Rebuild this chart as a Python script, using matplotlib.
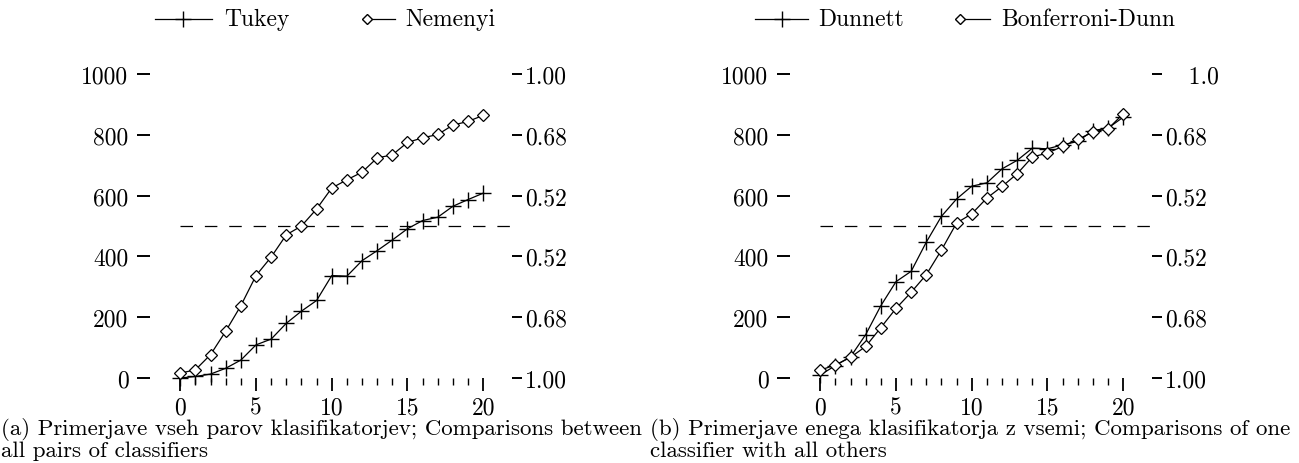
import matplotlib
matplotlib.use("Agg")
import matplotlib.pyplot as plt
from matplotlib.lines import Line2D

plt.rcParams['font.family'] = ['cmr10', 'DejaVu Serif']
plt.rcParams['axes.formatter.use_mathtext'] = True
plt.rcParams['axes.unicode_minus'] = False

# ---------------- data ----------------
x_vals = list(range(21))
tukey = [0, 5, 13, 32, 59, 109, 128, 180, 220, 255, 337, 335, 386, 419, 454,
         491, 518, 529, 565, 587, 608]
nemenyi = [16, 27, 77, 154, 238, 337, 398, 471, 500, 556, 625, 652, 677, 724,
           734, 775, 790, 801, 832, 844, 864]
dunnett = [10, 41, 70, 143, 238, 317, 351, 447, 532, 589, 631, 642, 688, 716,
           756, 754, 767, 778, 814, 822, 858]
bonferroni = [26, 43, 68, 104, 166, 229, 282, 340, 421, 510, 540, 592, 630,
              672, 727, 740, 762, 785, 809, 820, 869]
threshold = 500
y_ticks = [0, 200, 400, 600, 800, 1000]
y_ticklabels = ['0', '200', '400', '600', '800', '1000']
# right-hand labels, in the order of y_ticks (bottom to top)
right_labels_a = ['1.00', '0.68', '0.52', '0.52', '0.68', '1.00']
right_labels_b = ['1.00', '0.68', '0.52', '0.52', '0.68', '   1.0']
x_major = [0, 5, 10, 15, 20]
x_major_labels = ['0', '5', '10', '15', '20']
x_minor = list(range(21))
captions = ["(a) Primerjave vseh parov klasifikatorjev; Comparisons between\nall pairs of classifiers",
            "(b) Primerjave enega klasifikatorja z vsemi; Comparisons of one\nclassifier with all others"]
legend_a = ['Tukey', 'Nemenyi']
legend_b = ['Dunnett', 'Bonferroni-Dunn']

W, H = 1299, 464
fig = plt.figure(figsize=(W / 100, H / 100), dpi=100)

FS = 17
CAPFS = 16.5


def make_panel(left_px, s_plus, s_diam, rlabels):
    ax = fig.add_axes([left_px / W, (H - 379) / H, 362 / W, 304 / H])
    ax.set_xlim(-2.0, 21.9)
    ax.set_ylim(0, 1000)
    for sp in ax.spines.values():
        sp.set_visible(False)
    ax.plot(x_vals, s_plus, color='black', lw=0.9, marker='+', ms=12,
            mew=1.0, clip_on=False, zorder=3)
    ax.plot(x_vals, s_diam, color='black', lw=0.9, marker='D', ms=6.0,
            mfc='white', mew=0.9, clip_on=False, zorder=3)
    ax.axhline(threshold, xmin=2.0 / 23.9, xmax=1.0, color='black', lw=0.9,
               dashes=(10, 9.5))
    ax.set_yticks(y_ticks)
    ax.set_yticklabels(y_ticklabels, fontsize=FS)
    ax.tick_params(axis='y', direction='out', length=9.5, width=1.4, pad=6)
    ax.set_xticks(x_major)
    ax.set_xticklabels(x_major_labels, fontsize=FS)
    ax.set_xticks(x_minor, minor=True)
    ax.tick_params(axis='x', which='major', direction='out', length=9.5,
                   width=1.3, pad=3.5)
    ax.tick_params(axis='x', which='minor', direction='out', length=5,
                   width=1.0)
    ax2 = ax.twinx()
    ax2.set_ylim(0, 1000)
    for sp in ax2.spines.values():
        sp.set_visible(False)
    ax2.set_yticks(y_ticks)
    ax2.set_yticklabels(rlabels, fontsize=FS)
    ax2.tick_params(axis='y', direction='out', length=7.5, width=1.4, pad=2)
    return ax


ax_a = make_panel(150, tukey, nemenyi, right_labels_a)
ax_b = make_panel(790, dunnett, bonferroni, right_labels_b)


def fx(p):
    return p / W


def fy(p):
    return 1 - p / H


def legend_entry(x0, x1, mx, marker, ms, label, tx):
    fig.add_artist(Line2D([fx(x0), fx(x1)], [fy(20), fy(20)], color='black',
                          lw=0.9, transform=fig.transFigure))
    fig.add_artist(Line2D([fx(mx)], [fy(20)], color='black', lw=0,
                          marker=marker, ms=ms, mfc='white', mew=1.0,
                          transform=fig.transFigure))
    fig.text(fx(tx), fy(20), label, fontsize=FS, ha='left', va='center')


legend_entry(155, 212, 183, '+', 12, legend_a[0], 224)
legend_entry(367, 395, 367, 'D', 5.5, legend_a[1], 405)
legend_entry(755, 808, 782, '+', 12, legend_b[0], 818)
legend_entry(960, 990, 960, 'D', 5.5, legend_b[1], 1001)

fig.text(fx(1), fy(418.5), captions[0], fontsize=CAPFS, ha='left',
         va='top', linespacing=0.97)
fig.text(fx(650), fy(418.5), captions[1], fontsize=CAPFS, ha='left',
         va='top', linespacing=0.97)

fig.savefig('out.png', dpi=100)
